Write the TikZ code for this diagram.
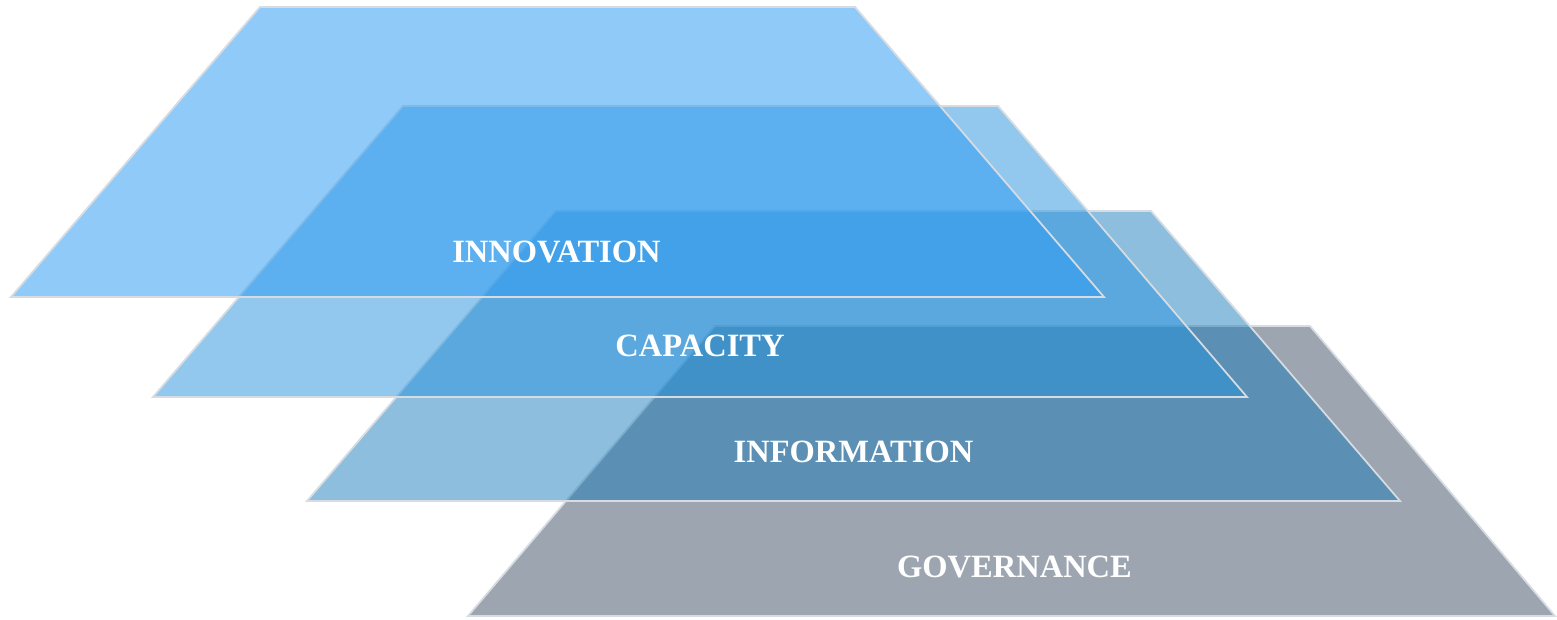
\documentclass[tikz,border=0pt]{standalone}
\usepackage{fontspec}
\setmainfont{Liberation Serif}
\begin{document}
\begin{tikzpicture}[x={(0.02cm,0)},y={(0,-0.02cm)},
  layer/.style={draw=edgecol,line width=1pt,line join=miter},
  lbl/.style={text=white,font=\fontsize{18.5}{21}\selectfont\bfseries,inner sep=0pt}]
\definecolor{edgecol}{RGB}{214,220,226}
\definecolor{govcol}{RGB}{157,166,176}
\definecolor{infocol}{RGB}{20,120,184}
\definecolor{capcol}{RGB}{39,147,221}
\definecolor{innocol}{RGB}{46,155,242}
\useasboundingbox[fill=white] (0,0) rectangle (1557,619);
% governance
\filldraw[layer,fill=govcol] (715,326) -- (1310,326) -- (1555,616) -- (468,616) -- cycle;
% information
\filldraw[layer,fill=infocol,fill opacity=0.48] (556,211) -- (1151,211) -- (1400,501) -- (307,501) -- cycle;
% capacity
\filldraw[layer,fill=capcol,fill opacity=0.5] (403,106) -- (998,106) -- (1247,397) -- (153,397) -- cycle;
% innovation
\filldraw[layer,fill=innocol,fill opacity=0.53] (260,7) -- (855,7) -- (1104,297) -- (11,297) -- cycle;
\node[lbl] (innovation) at (556.5,252) {INNOVATION};
\node[lbl] (capacity) at (700,346) {CAPACITY};
\node[lbl] (information) at (853.5,452) {INFORMATION};
\node[lbl] (governance) at (1014.5,567) {GOVERNANCE};
\end{tikzpicture}
\end{document}
